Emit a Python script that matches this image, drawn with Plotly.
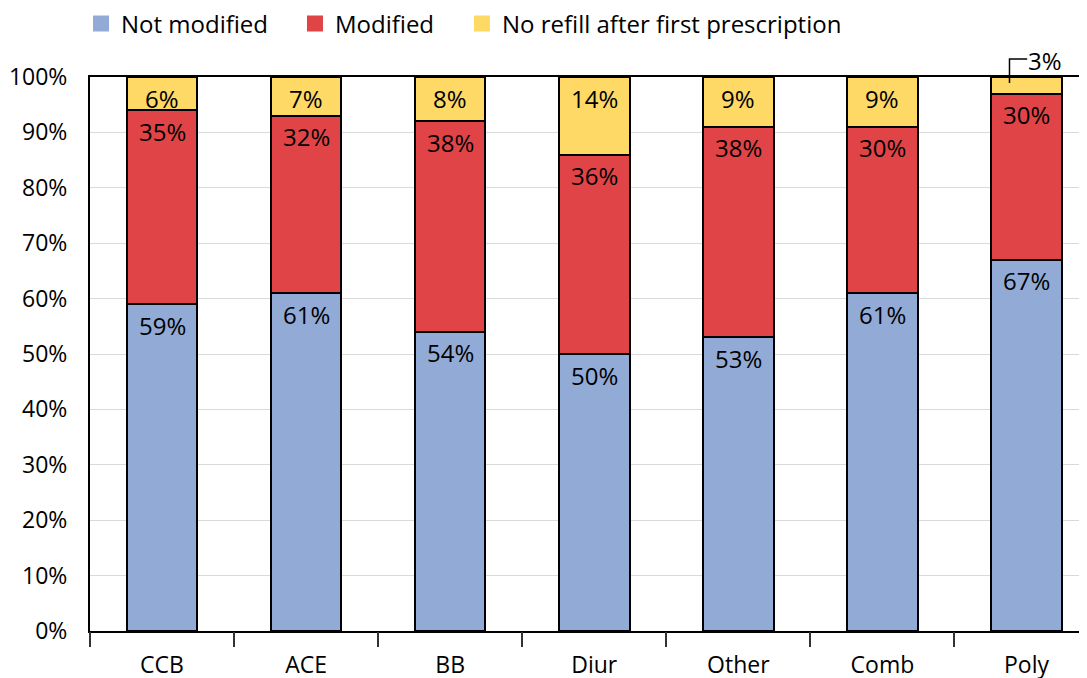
import plotly.graph_objects as go

categories = ["CCB", "ACE", "BB", "Diur", "Other", "Comb", "Poly"]
not_modified = [59, 61, 54, 50, 53, 61, 67]
modified = [35, 32, 38, 36, 38, 30, 30]
no_refill = [6, 7, 8, 14, 9, 9, 3]
series_names = ["Not modified", "Modified", "No refill after first prescription"]
y_ticks = [0, 10, 20, 30, 40, 50, 60, 70, 80, 90, 100]

colors = ["#92ABD6", "#E04446", "#FFD966"]
FONT = "Open Sans"
legend_ids = ["legend", "legend2", "legend3"]
legend_x = [-0.009, 0.2056, 0.3731]

fig = go.Figure()
series = [not_modified, modified, no_refill]
for name, vals, col in zip(series_names, series, colors):
    fig.add_trace(go.Bar(
        x=categories, y=vals, name=name, showlegend=False,
        marker=dict(color=col, line=dict(color="black", width=2)),
        width=0.49,
    ))
# legend-only entries (plain squares, no outline)
for name, col, lid in zip(series_names, colors, legend_ids):
    fig.add_trace(go.Scatter(
        x=[None], y=[None], mode="markers", name=name, legend=lid,
        marker=dict(symbol="square", size=16, color=col),
    ))

# segment labels
annotations = []
for vals_idx, vals in enumerate(series):
    for i, cat in enumerate(categories):
        top = sum(s[i] for s in series[:vals_idx + 1])
        v = vals[i]
        if vals_idx == 2 and v < 5:
            # small segment: label outside with leader line
            annotations.append(dict(
                x=i + 0.125, xref="x", y=1.029, yref="paper", yanchor="middle",
                xanchor="center",
                text=f"{v}%", showarrow=False,
                font=dict(family=FONT, size=24, color="black"),
            ))
            fig.add_shape(type="path", xref="x", yref="paper",
                          path=f"M {i-0.118},0.989 L {i-0.118},1.0325 L {i+0.005},1.0325",
                          line=dict(color="black", width=1.5))
            continue
        annotations.append(dict(
            x=cat, xref="x", y=top, yref="y", yanchor="middle",
            yshift=-21, text=f"{v}%", showarrow=False,
            font=dict(family=FONT, size=24, color="black"),
        ))

legend_common = dict(orientation="h", xanchor="left", y=1.0957, yanchor="middle",
                     font=dict(family=FONT, size=24, color="black"),
                     itemwidth=30, bgcolor="rgba(0,0,0,0)")

fig.update_layout(
    width=1079, height=678,
    barmode="stack",
    bargap=0.51,
    plot_bgcolor="white", paper_bgcolor="white",
    margin=dict(l=82, r=0, t=69, b=55, autoexpand=False),
    font=dict(family=FONT, size=22, color="black"),
    legend=dict(x=legend_x[0], **legend_common),
    legend2=dict(x=legend_x[1], **legend_common),
    legend3=dict(x=legend_x[2], **legend_common),
    annotations=annotations,
    xaxis=dict(
        range=[-0.5, 6.42], showline=True, linecolor="black", linewidth=2,
        mirror=True, ticks="", showgrid=False, automargin=False,
        tickfont=dict(family=FONT, size=23, color="black"),
        ticklabelstandoff=12,
    ),
    xaxis2=dict(
        overlaying="x", anchor="y", side="bottom", range=[-0.5, 6.42],
        tickmode="array", tickvals=[i - 0.5 for i in range(len(categories) + 1)],
        ticks="outside", ticklen=15, tickwidth=1.5, tickcolor="#333333",
        showticklabels=False, showgrid=False, showline=False, zeroline=False,
        automargin=False,
    ),
    yaxis=dict(
        range=[0, 100], tickmode="array", tickvals=y_ticks,
        ticktext=[f"{t}%" for t in y_ticks],
        showline=True, linecolor="black", linewidth=2,
        showgrid=True, gridcolor="#D9D9D9", gridwidth=1, zeroline=False,
        ticks="", ticklabelstandoff=16, automargin=False,
        tickfont=dict(family=FONT, size=23, color="black"),
    ),
)
# dummy trace on xaxis2 so its boundary ticks render
fig.add_trace(go.Scatter(x=[0], y=[None], xaxis="x2", showlegend=False, hoverinfo="skip"))

fig.write_html("out.html")
